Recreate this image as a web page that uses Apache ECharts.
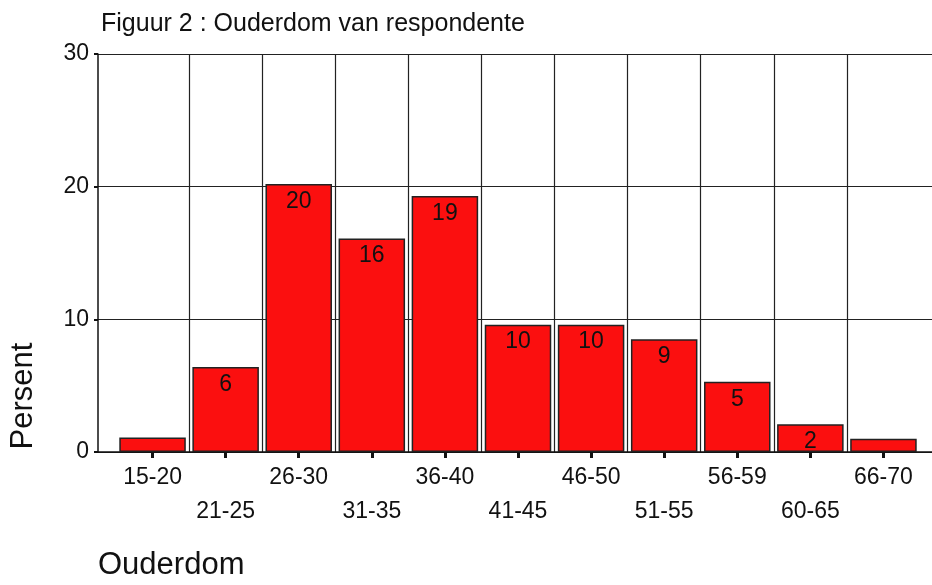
<!DOCTYPE html>
<html lang="af">
<head>
  <meta charset="UTF-8">
  <title>Ouderdom van respondente</title>
  <script src="https://cdn.jsdelivr.net/npm/echarts@6/dist/echarts.min.js"></script>
  <style>
    html, body { margin: 0; padding: 0; background: #fff; }
  </style>
</head>
<body>
<div id="box" style="width: 932px;height: 585px;"></div>
<script>
  // data
  var categories = ['15-20', '21-25', '26-30', '31-35', '36-40', '41-45', '46-50', '51-55', '56-59', '60-65', '66-70'];
  var percent = [1.1, 6.4, 20.2, 16.1, 19.3, 9.6, 9.6, 8.5, 5.3, 2.1, 1.0];
  var barLabels = ['', '6', '20', '16', '19', '10', '10', '9', '5', '2', ''];
  var yTicks = [0, 10, 20, 30];

  var font = '"Liberation Sans", Arial, sans-serif';
  var myChart = echarts.init(document.getElementById('box'));

  var option = {
    backgroundColor: '#fff',
    animation: false,
    title: {
      text: 'Figuur 2 : Ouderdom van respondente',
      left: 96, top: 7,
      textStyle: { fontFamily: font, fontSize: 25, fontWeight: 'normal', color: '#111' }
    },
    graphic: [
      { type: 'text', left: 98, top: 550,
        style: { text: 'Ouderdom', font: '31px ' + font, fill: '#111' } },
      { type: 'text', x: 23, y: 396, rotation: Math.PI / 2,
        style: { text: 'Persent', font: '31px ' + font, fill: '#111', textAlign: 'center', textVerticalAlign: 'middle' } }
    ],
    grid: [
      // bars
      { left: 116, right: 12, top: 54, bottom: 133 },
      // frame with y axis and horizontal lines
      { left: 98, right: 0, top: 54, bottom: 133 }
    ],
    xAxis: [
      {
        type: 'category', gridIndex: 0, data: categories,
        axisLine: { show: false },
        axisTick: { show: true, alignWithLabel: true, length: 6, lineStyle: { color: '#111', width: 3 } },
        axisLabel: {
          interval: 0, margin: 9, fontFamily: font, fontSize: 23, color: '#111', lineHeight: 34,
          formatter: function (v, i) { return i % 2 ? '\n' + v : v; }
        },
        splitLine: { show: true, showMinLine: false, showMaxLine: false, lineStyle: { color: '#222', width: 1.2 } }
      },
      {
        type: 'value', gridIndex: 1, min: 0, max: 1,
        axisLine: { show: true, lineStyle: { color: '#111', width: 1.5 } },
        axisTick: { show: false }, axisLabel: { show: false }, splitLine: { show: false }
      }
    ],
    yAxis: [
      { type: 'value', gridIndex: 0, min: 0, max: 30, interval: 10, show: false },
      {
        type: 'value', gridIndex: 1, min: yTicks[0], max: yTicks[yTicks.length - 1], interval: 10,
        axisLine: { show: true, lineStyle: { color: '#111', width: 1.5 } },
        axisTick: { show: true, length: 4, lineStyle: { color: '#111', width: 2 } },
        axisLabel: { margin: 9, fontFamily: font, fontSize: 23, color: '#111' },
        splitLine: { show: true, lineStyle: { color: '#222', width: 1.2 } }
      }
    ],
    series: [{
      name: 'Persent',
      type: 'bar',
      xAxisIndex: 0, yAxisIndex: 0,
      barCategoryGap: '9%',
      data: percent,
      itemStyle: { color: '#fb0f0f', borderColor: '#222', borderWidth: 1.5 },
      label: {
        show: true, position: 'insideTop', distance: 6,
        fontFamily: font, fontSize: 23, color: '#111',
        formatter: function (p) { return barLabels[p.dataIndex]; }
      }
    }]
  };
  myChart.setOption(option);
</script>
</body>
</html>
